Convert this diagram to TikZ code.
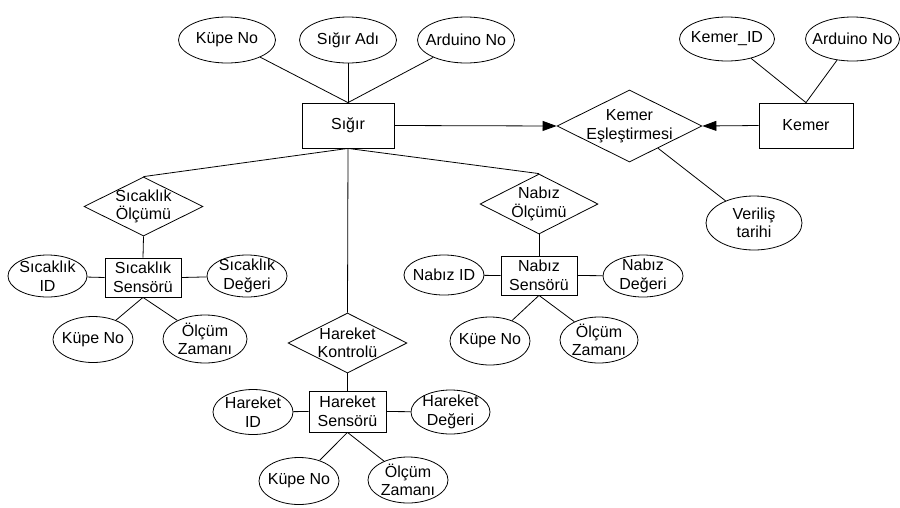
\documentclass[tikz,border=0pt]{standalone}
\usepackage{fontspec}
\setmainfont{Liberation Sans}
\usetikzlibrary{shapes.geometric,arrows.meta}
\newcommand\fsz{\fontsize{16}{18.5}\selectfont}
\begin{document}
\begin{tikzpicture}[x=1pt,y=-1pt,
  line width=0.8pt,
  lbl/.style={inner sep=0pt, align=center, font=\fsz},
  attr/.style={draw, ellipse, inner sep=0pt, line width=0.8pt},
  ent/.style={draw, rectangle, inner sep=0pt, align=center, font=\fsz, line width=0.8pt},
  rel/.style={draw, diamond, inner sep=0pt, line width=0.8pt},
  at/.style={label={[lbl]center:{#1}}},
  arr/.style={-{Triangle[length=14pt,width=10pt]}}
]
\useasboundingbox (0,0) rectangle (900,507);
% top attributes
\node[attr, minimum width=97, minimum height=46, at={Küpe No}] (kupe1) at (227,40) {};
\node[attr, minimum width=97, minimum height=46, at={Sığır Adı}] (adi) at (348,40) {};
\node[attr, minimum width=97, minimum height=46, at={Arduino No}] (ard1) at (466,40) {};
\node[ent, minimum width=92, minimum height=45] (sigir) at (348,125.5) {Sığır};
% kemer
\node[rel, minimum width=145, minimum height=72, at={Kemer\\Eşleştirmesi}] (ke) at (629.5,126) {};
\node[ent, minimum width=94, minimum height=45] (kemer) at (806,125.5) {Kemer};
\node[attr, minimum width=95, minimum height=44, at={Kemer\_ID}] (kid) at (727,39) {};
\node[attr, minimum width=94, minimum height=44, at={Arduino No}] (ard2) at (852.5,39) {};
\node[attr, minimum width=96, minimum height=54, at={Veriliş\\tarihi}] (ver) at (754,223) {};
% sicaklik
\node[rel, minimum width=119, minimum height=59, at={Sıcaklık\\Ölçümü}] (sd) at (143.5,206.5) {};
\node[ent, minimum width=76, minimum height=39] (ss) at (143,277.5) {Sıcaklık\\Sensörü};
\node[attr, minimum width=79, minimum height=42, at={Sıcaklık\\ID}] (sid) at (47.5,276) {};
\node[attr, minimum width=80, minimum height=42, at={Sıcaklık\\Değeri}] (sdeg) at (247,276) {};
\node[attr, minimum width=80, minimum height=46, at={Küpe No}] (sk) at (93,339.5) {};
\node[attr, minimum width=84, minimum height=48, at={Ölçüm\\Zamanı}] (sz) at (205,339) {};
% nabiz
\node[rel, minimum width=118, minimum height=60, at={Nabız\\Ölçümü}] (nd) at (539,204) {};
\node[ent, minimum width=76, minimum height=39] (ns) at (539,275.5) {Nabız\\Sensörü};
\node[attr, minimum width=80, minimum height=40, at={Nabız ID}] (nid) at (444,275) {};
\node[attr, minimum width=80, minimum height=42, at={Nabız\\Değeri}] (ndeg) at (643,276) {};
\node[attr, minimum width=80, minimum height=48, at={Küpe No}] (nk) at (490,341) {};
\node[attr, minimum width=78, minimum height=46, at={Ölçüm\\Zamanı}] (nz) at (599,340) {};
% hareket
\node[rel, minimum width=119, minimum height=60, at={Hareket\\Kontrolü}] (hd) at (347.5,343) {};
\node[ent, minimum width=77, minimum height=41] (hs) at (347.5,411.5) {Hareket\\Sensörü};
\node[attr, minimum width=80, minimum height=45, at={Hareket\\ID}] (hid) at (253,412) {};
\node[attr, minimum width=79, minimum height=44, at={Hareket\\Değeri}] (hdeg) at (450.5,412) {};
\node[attr, minimum width=80, minimum height=47, at={Küpe No}] (hk) at (299,481) {};
\node[attr, minimum width=80, minimum height=46, at={Ölçüm\\Zamanı}] (hz) at (408,480) {};
% connectors
\draw (kupe1) -- (sigir.north);
\draw (adi) -- (sigir.north);
\draw (ard1) -- (sigir.north);
\draw (sigir.south) -- (sd.north);
\draw (sigir.south) -- (nd.north);
\draw (sigir.south) -- (hd.north);
\draw[arr] (sigir.east) -- (ke.west);
\draw[arr] (kemer.west) -- (ke.east);
\draw (kid) -- (kemer.north);
\draw (ard2) -- (kemer.north);
\draw (ke) -- (ver);
\draw (sd.south) -- (ss.north);
\draw (sid) -- (ss.west);
\draw (ss.east) -- (sdeg);
\draw (ss.south) -- (sk);
\draw (ss.south) -- (sz);
\draw (nd.south) -- (ns.north);
\draw (nid) -- (ns.west);
\draw (ns.east) -- (ndeg);
\draw (ns.south) -- (nk);
\draw (ns.south) -- (nz);
\draw (hd.south) -- (hs.north);
\draw (hid) -- (hs.west);
\draw (hs.east) -- (hdeg);
\draw (hs.south) -- (hk);
\draw (hs.south) -- (hz);
\end{tikzpicture}
\end{document}
